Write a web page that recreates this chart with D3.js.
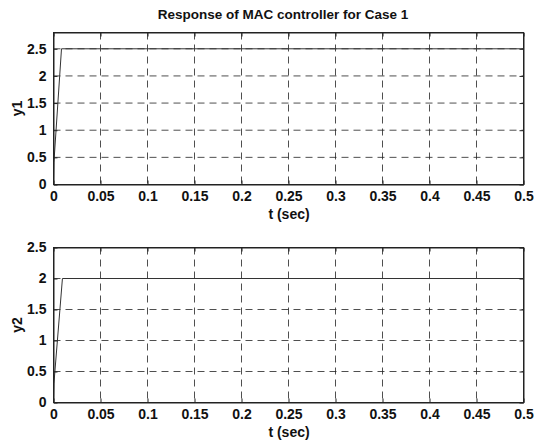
<!DOCTYPE html>
<html>
<head>
<meta charset="utf-8">
<script src="https://cdn.jsdelivr.net/npm/d3@7"></script>
<style>
  body { margin: 0; background: #fff; }
  text { font-family: "Liberation Sans", Arial, sans-serif; fill: #111; }
</style>
</head>
<body>
<div id="chart"></div>
<script>
// response data
var t1 = [0, 0.0004, 0.0085, 0.5];
var y1 = [0, 0.4, 2.5, 2.5];
var t2 = [0, 0.0004, 0.0095, 0.5];
var y2 = [0, 0.3, 2.0, 2.0];
var xTicks = [0, 0.05, 0.1, 0.15, 0.2, 0.25, 0.3, 0.35, 0.4, 0.45, 0.5];
var yTicks = [0, 0.5, 1, 1.5, 2, 2.5];

var width = 534, height = 441;
var svg = d3.select('#chart').append('svg')
    .attr('width', width)
    .attr('height', height);

svg.append('text')
    .attr('x', 283).attr('y', 19)
    .attr('text-anchor', 'middle')
    .style('font-size', '13.5px')
    .style('font-weight', 'bold')
    .text('Response of MAC controller for Case 1');

function panel(top, bottom, ymax, ts, ys, ylab) {
    var x = d3.scaleLinear().domain([0, 0.5]).range([53.5, 523.5]);
    var y = d3.scaleLinear().domain([0, ymax]).range([bottom, top]);
    var g = svg.append('g');

    // grid
    g.selectAll('.vgrid').data(xTicks.slice(1, -1)).enter().append('line')
        .attr('x1', function (d) { return x(d); })
        .attr('x2', function (d) { return x(d); })
        .attr('y1', top).attr('y2', bottom)
        .attr('stroke', '#222').attr('stroke-width', 0.8)
        .attr('stroke-dasharray', '7,5');
    g.selectAll('.hgrid').data(yTicks.filter(function (d) { return d > 0 && d < ymax; })).enter().append('line')
        .attr('y1', function (d) { return y(d); })
        .attr('y2', function (d) { return y(d); })
        .attr('x1', x(0)).attr('x2', x(0.5))
        .attr('stroke', '#222').attr('stroke-width', 0.8)
        .attr('stroke-dasharray', '7,5');

    // data
    var line = d3.line()
        .x(function (d) { return x(d[0]); })
        .y(function (d) { return y(d[1]); });
    g.append('path')
        .datum(d3.zip(ts, ys))
        .attr('d', line)
        .attr('fill', 'none')
        .attr('stroke', '#333')
        .attr('stroke-width', 1);

    // axes, ticks inside like matlab
    g.append('g').attr('transform', 'translate(0,' + bottom + ')')
        .call(d3.axisBottom(x).tickValues(xTicks).tickSizeInner(-4).tickSizeOuter(0).tickPadding(7)
            .tickFormat(function (d) { return d3.format('')(+d.toFixed(2)); }));
    g.append('g').attr('transform', 'translate(0,' + top + ')')
        .call(d3.axisTop(x).tickValues(xTicks).tickSizeInner(-4).tickSizeOuter(0).tickFormat(''));
    g.append('g').attr('transform', 'translate(' + x(0) + ',0)')
        .call(d3.axisLeft(y).tickValues(yTicks).tickSizeInner(-4).tickSizeOuter(0).tickPadding(7)
            .tickFormat(d3.format('')));
    g.append('g').attr('transform', 'translate(' + x(0.5) + ',0)')
        .call(d3.axisRight(y).tickValues(yTicks).tickSizeInner(-4).tickSizeOuter(0).tickFormat(''));

    g.selectAll('.domain').attr('stroke', '#222');
    g.selectAll('.tick line').attr('stroke', '#222');
    g.selectAll('.tick text')
        .style('font-size', '14px')
        .style('font-weight', 'bold')
        .style('font-family', '"Liberation Sans", Arial, sans-serif')
        .attr('fill', '#111');

    g.append('rect')
        .attr('x', x(0)).attr('y', top)
        .attr('width', x(0.5) - x(0)).attr('height', bottom - top)
        .attr('fill', 'none').attr('stroke', '#222');

    g.append('text')
        .attr('x', 289).attr('y', bottom + 34)
        .attr('text-anchor', 'middle')
        .style('font-size', '14px').style('font-weight', 'bold')
        .text('t (sec)');
    g.append('text')
        .attr('transform', 'translate(22,' + (top + bottom) / 2 + ') rotate(-90)')
        .attr('text-anchor', 'middle')
        .style('font-size', '14px').style('font-weight', 'bold')
        .text(ylab);
}

panel(32.5, 184.5, 2.8, t1, y1, 'y1');
panel(247.5, 402.5, 2.5, t2, y2, 'y2');
</script>
</body>
</html>
